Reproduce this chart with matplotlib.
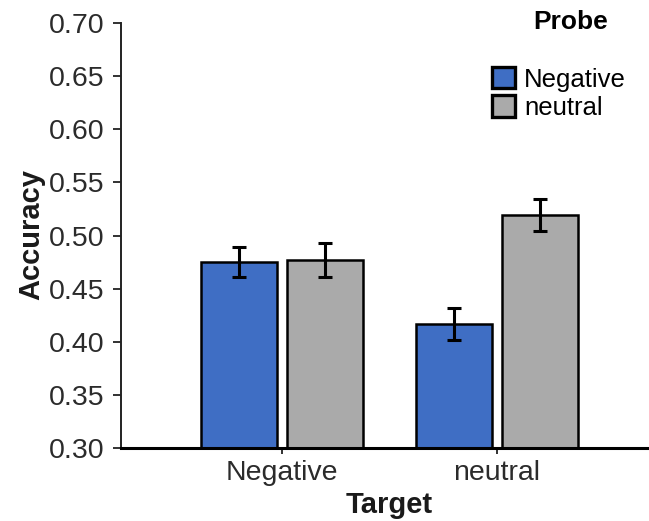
import numpy as np
import matplotlib.pyplot as plt

targets = ['Negative', 'neutral']
probes = ['Negative', 'neutral']
acc_neg_probe = [0.475, 0.417]
acc_neu_probe = [0.477, 0.519]
err_neg_probe = [0.014, 0.015]
err_neu_probe = [0.016, 0.015]
yticks = [0.30, 0.35, 0.40, 0.45, 0.50, 0.55, 0.60, 0.65, 0.70]

colors = ['#3F6EC4', '#AAAAAA']

plt.rcParams['font.family'] = ['Liberation Sans', 'DejaVu Sans']

fig = plt.figure(figsize=(6.49, 5.21), dpi=100)
ax = fig.add_axes([121/649, 1-448/521, 1-121/649, (448-23)/521])

x = np.arange(len(targets))
w = 0.35
ekw = dict(elinewidth=2.2, capsize=5, capthick=2.2, ecolor='black')
ax.bar(x - 0.2, acc_neg_probe, w, yerr=err_neg_probe, color=colors[0],
       edgecolor='black', linewidth=1.8, label=probes[0], error_kw=ekw, zorder=2)
ax.bar(x + 0.2, acc_neu_probe, w, yerr=err_neu_probe, color=colors[1],
       edgecolor='black', linewidth=1.8, label=probes[1], error_kw=ekw, zorder=2)

ax.set_ylim(0.30, 0.70)
ax.set_xlim(-0.749, 1.707)
ax.set_yticks(yticks)
ax.set_yticklabels(['%.2f' % v for v in yticks])
ax.set_xticks(x)
ax.set_xticklabels(targets)
ax.tick_params(axis='both', labelsize=20.5, labelcolor='#2b2b2b', width=1.3,
               color='#222222')
ax.tick_params(axis='y', length=6, pad=6)
ax.tick_params(axis='x', length=4.5, pad=4)

ax.spines['right'].set_color('none')
ax.spines['top'].set_color('none')
ax.spines['bottom'].set_linewidth(2.2)
ax.spines['left'].set_linewidth(1.4)
ax.spines['left'].set_color('#222222')

fig.text(31/649, 1-235/521, 'Accuracy', fontsize=21, fontweight='bold',
         rotation=90, ha='center', va='center', color='#1a1a1a')
fig.text(389/649, 1-505/521, 'Target', fontsize=21, fontweight='bold',
         ha='center', va='center', color='#1a1a1a')

fig.text(571/649, 1-22/521, 'Probe', fontsize=19, fontweight='bold',
         ha='center', va='center')
leg = ax.legend(loc='upper left', bbox_to_anchor=(492/649, 1-67/521),
                bbox_transform=fig.transFigure, frameon=False, fontsize=18.5,
                handlelength=0.9, handleheight=0.9, handletextpad=0.35,
                labelspacing=0.15, borderpad=0, borderaxespad=0)
for h in leg.legend_handles:
    h.set_linewidth(2.4)

fig.savefig('out.png', dpi=100)
